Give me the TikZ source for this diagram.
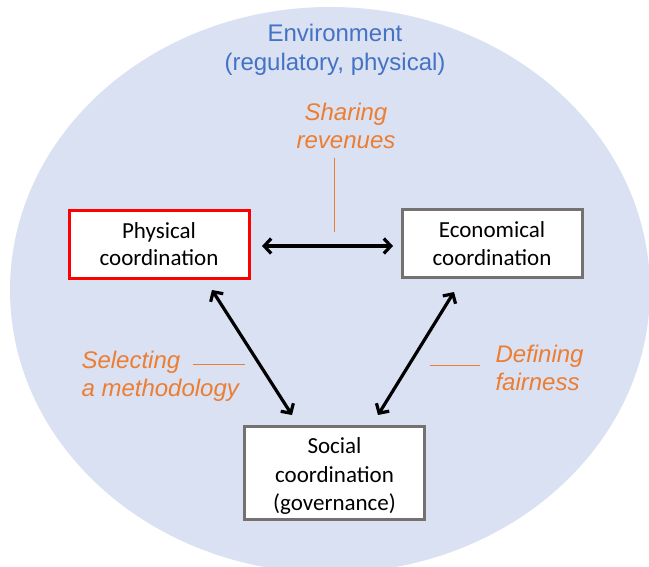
\documentclass[tikz,border=0pt]{standalone}
\usepackage{fontspec}
\setmainfont{Carlito}
\newfontfamily\arialfont{Liberation Sans}
\usetikzlibrary{arrows.meta}
\definecolor{envfill}{HTML}{D9E1F2}
\definecolor{envblue}{HTML}{4472C4}
\definecolor{labor}{HTML}{ED7D31}
\definecolor{boxgray}{HTML}{767171}
\begin{document}
\begin{tikzpicture}[x=1pt,y=-1pt,
  box/.style={draw=boxgray,line width=3pt,fill=white,align=center,
    minimum width=180pt,minimum height=68pt,inner sep=2pt,
    font=\fontsize{23}{27.5}\selectfont},
  relarrow/.style={line width=3.2pt,{Straight Barb[length=7pt,width=15pt]}-{Straight Barb[length=7pt,width=15pt]}},
  lab/.style={text=labor,align=center,font=\arialfont\itshape\fontsize{24}{28}\selectfont},
  env/.style={text=envblue,align=center,font=\arialfont\fontsize{24}{29}\selectfont},
  tick/.style={draw=labor,line width=0.7pt}]
\useasboundingbox (0,0) rectangle (649,566);
\clip (0,0) rectangle (649,566);
\fill[envfill] (330,290) ellipse [x radius=320pt, y radius=283pt];
\node[env] (envlab) at (335,50) {Environment\\(regulatory, physical)};
\node[box,draw=red] (phys) at (159,244) {Physical\\coordination};
\node[box] (econ) at (492,243.5) {Economical\\coordination};
\node[box,minimum height=93pt,font=\fontsize{23}{28.5}\selectfont,text depth=0pt] (soc) at (334.5,472.5) {};
\node[font=\fontsize{23}{28.5}\selectfont,align=center,inner sep=0pt] (soctext) at (334.5,476) {Social\\coordination\\(governance)};
\coordinate (pa) at (262,246);
\coordinate (pb) at (393,246);
\draw[relarrow] (pa) -- (pb);
\coordinate (la) at (212,290);
\coordinate (lb) at (292,415);
\draw[relarrow] (la) -- (lb);
\coordinate (ra) at (454,292);
\coordinate (rb) at (378,415);
\draw[relarrow] (ra) -- (rb);
\node[lab] (share) at (346,126) {Sharing\\revenues};
\coordinate (s1) at (334,158);
\coordinate (s2) at (334,232);
\draw[tick] (s1) -- (s2);
\node[lab,align=left,anchor=west] (sel) at (78,376) {Selecting\\a methodology};
\coordinate (m1) at (193,364);
\coordinate (m2) at (245,364);
\draw[tick] (m1) -- (m2);
\node[lab,align=left,anchor=west] (fair) at (492,368) {Defining\\fairness};
\coordinate (f1) at (430,365);
\coordinate (f2) at (480,365);
\draw[tick] (f1) -- (f2);
\end{tikzpicture}
\end{document}
